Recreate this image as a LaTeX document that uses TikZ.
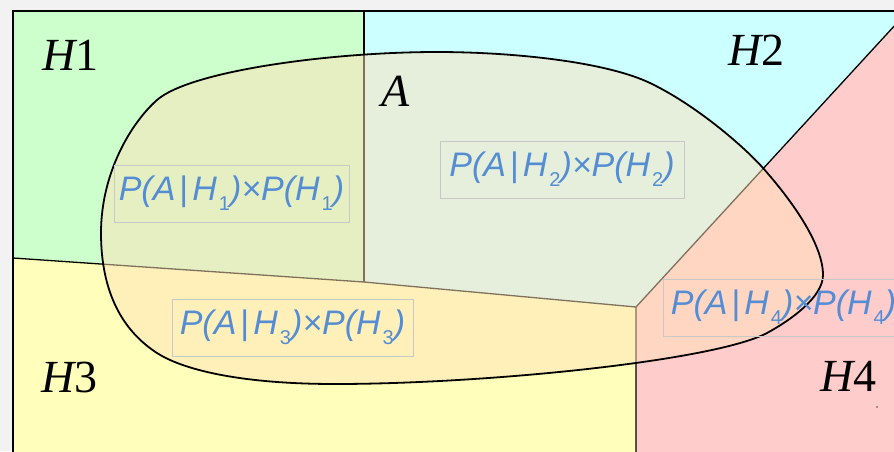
\documentclass[tikz,border=0pt]{standalone}
\usepackage{fontspec}
\setmainfont{Liberation Serif}
\newfontfamily\fml{Liberation Sans}
\definecolor{bggray}{RGB}{242,242,242}
\definecolor{hone}{RGB}{204,255,204}
\definecolor{htwo}{RGB}{204,255,255}
\definecolor{hthree}{RGB}{255,255,187}
\definecolor{hfour}{RGB}{255,204,204}
\definecolor{afill}{RGB}{255,225,185}
\definecolor{fblue}{RGB}{84,141,212}
\definecolor{boxgray}{RGB}{200,200,200}
\newcommand\sbd[1]{\kern2pt\raisebox{-10pt}{\fontsize{20}{20}\selectfont\upshape #1}}
\newcommand\frm[1]{P(A\kern4pt{\upshape|}\kern4pt H\sbd{#1})×P(H\sbd{#1})}
\tikzset{
  lbl/.style={anchor=base west, inner sep=0pt, font=\fontsize{46}{46}\selectfont},
  fbx/.style={draw=boxgray, line width=0.9pt, minimum width=#1, minimum height=57pt,
    inner sep=0pt, text height=20pt, text depth=7pt, text=fblue,
    font=\fml\fontsize{34}{34}\selectfont\itshape},
  part/.style={line width=1.3pt, draw=black},
  aline/.style={line width=1.8pt, draw=black},
}
\begin{document}
\begin{tikzpicture}[x=1pt,y=-1pt]
\useasboundingbox (0,0) rectangle (894,451);
\fill[bggray] (0,0) rectangle (894,451);
\begin{scope}
\clip (0,0) rectangle (894,451);
% regions
\fill[hone] (13,11) -- (364,11) -- (364,282) -- (13,258) -- cycle;
\fill[htwo] (364,11) -- (908,11) -- (636,307) -- (364,282) -- cycle;
\fill[hthree] (13,258) -- (364,282) -- (636,307) -- (636,460) -- (13,460) -- cycle;
\fill[hfour] (636,307) -- (908,11) -- (908,460) -- (636,460) -- cycle;
% partition lines
\draw[part] (364,11) -- (364,282);
\draw[part] (13,258) -- (364,282) -- (636,307) -- (636,460);
\draw[part] (636,307) -- (908,11);
% event A
\def\apath{(101,233) .. controls (101,173) and (131,123) .. (157,100)
 .. controls (190,71) and (330,52) .. (437,52)
 .. controls (512,52) and (605,61.5) .. (650,83)
 .. controls (695,104.5) and (743,145.5) .. (763,168)
 .. controls (783,190.5) and (823,240) .. (823,275)
 .. controls (823,297) and (791,320) .. (767,333)
 .. controls (714,361) and (485,384) .. (335,384)
 .. controls (245,384) and (185,371) .. (157,353)
 .. controls (123,331) and (101,293) .. (101,233) -- cycle}
\path[fill=afill, fill opacity=0.5] \apath;
\draw[aline] \apath;
% outer border
\draw[line width=1.6pt] (13,460) -- (13,11) -- (900,11);
% labels
\node[lbl] (h1) at (42,70) {\itshape H\upshape 1};
\node[lbl] (h2) at (728,65) {\itshape H\upshape 2};
\node[lbl] (h3) at (41,392) {\itshape H\upshape 3};
\node[lbl] (h4) at (820,391) {\itshape H\upshape 4};
\node[lbl] (a) at (381,106) {\itshape A};
% formula boxes
\node[fbx=235pt] (f1) at (231.5,193.5) {\frm{1}};
\node[fbx=244pt] (f2) at (562,169.5) {\frm{2}};
\node[fbx=241pt] (f3) at (292.5,328) {\frm{3}};
\node[fbx=241pt] (f4) at (783.5,308) {\frm{4}};
\fill[black!70] (877,407) circle (0.8pt);
\end{scope}
\end{tikzpicture}
\end{document}
